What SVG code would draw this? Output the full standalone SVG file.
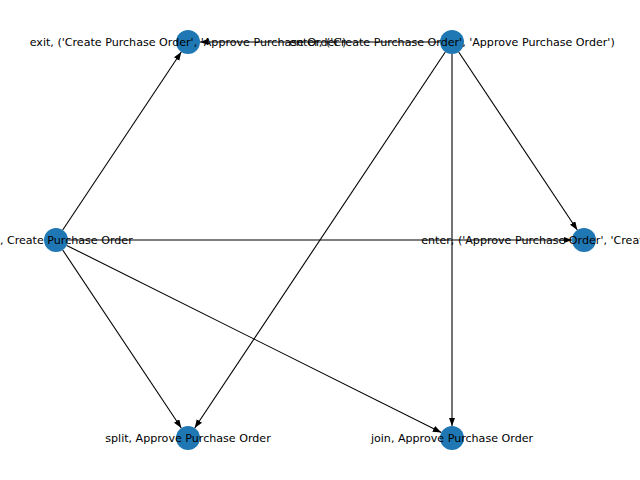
<svg xmlns="http://www.w3.org/2000/svg" width="640" height="480" viewBox="0 0 640 480">
<defs>
<style>
.edge{stroke:#000;stroke-width:1.1;fill:none;marker-end:url(#ah)}
.node circle{fill:#1f77b4}
.node text{font-family:"DejaVu Sans",sans-serif;font-size:11.1px;fill:#000;text-anchor:middle}
</style>
<marker id="ah" markerUnits="userSpaceOnUse" markerWidth="9" markerHeight="7" refX="8.5" refY="3.2" orient="auto">
<path d="M0,0 L8.5,3.2 L0,6.4 z" fill="#000"/>
</marker>
</defs>
<rect width="640" height="480" fill="#fff"/>
<g id="edges">
<line class="edge" x1="440" y1="42" x2="200" y2="42"/>
<line class="edge" x1="62.7" y1="230" x2="181.3" y2="52"/>
<line class="edge" x1="68" y1="240" x2="572" y2="240"/>
<line class="edge" x1="62.7" y1="250" x2="181.3" y2="428"/>
<line class="edge" x1="66.7" y1="245.4" x2="441.3" y2="432.6"/>
<line class="edge" x1="445.3" y1="52" x2="194.7" y2="428"/>
<line class="edge" x1="452" y1="54" x2="452" y2="426"/>
<line class="edge" x1="458.7" y1="52" x2="577.3" y2="230"/>
</g>
<g id="n_exit_tuple" class="node"><circle cx="188" cy="42" r="12"/></g>
<g id="n_enter_tuple" class="node"><circle cx="452" cy="42" r="12"/></g>
<g id="n_exit_create" class="node"><circle cx="56" cy="240" r="12"/></g>
<g id="n_enter_tuple2" class="node"><circle cx="584" cy="240" r="12"/></g>
<g id="n_split_approve" class="node"><circle cx="188" cy="438" r="12"/></g>
<g id="n_join_approve" class="node"><circle cx="452" cy="438" r="12"/></g>
<g id="labels" class="node">
<text x="188" y="46">exit, ('Create Purchase Order', 'Approve Purchase Order')</text>
<text x="452" y="46">enter, ('Create Purchase Order', 'Approve Purchase Order')</text>
<text x="56" y="244">exit, Create Purchase Order</text>
<text x="584" y="244">enter, ('Approve Purchase Order', 'Create Purchase Order')</text>
<text x="188" y="442">split, Approve Purchase Order</text>
<text x="452" y="442">join, Approve Purchase Order</text>
</g>
</svg>
